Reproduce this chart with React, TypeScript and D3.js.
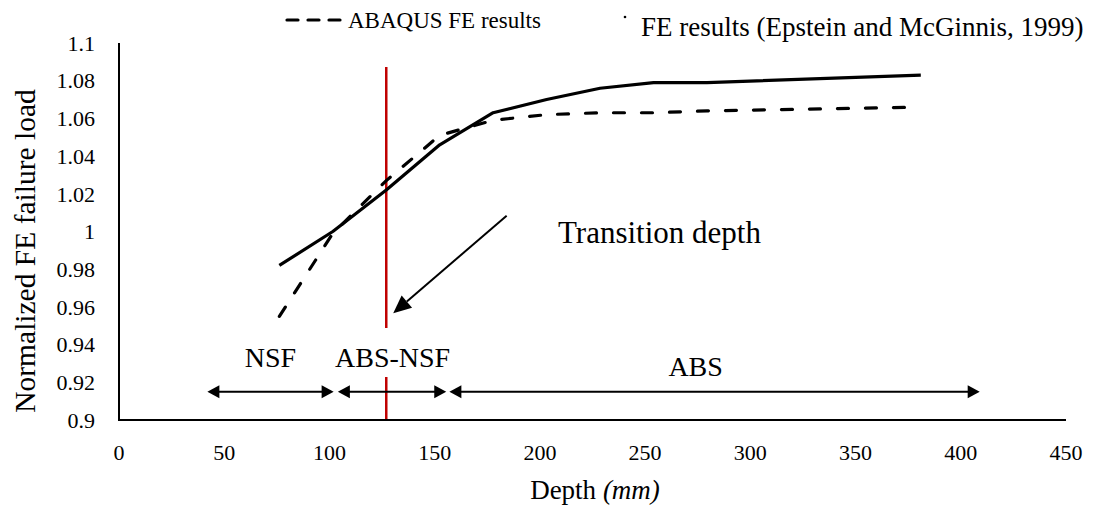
import React from "react";
import * as d3 from "d3";

// Depths in mm (3, 4, 5 ... 11 and 15 inches)
const depths = [76.2, 101.6, 127, 152.4, 177.8, 203.2, 228.6, 254, 279.4, 381];
// FE results (Epstein and McGinnis, 1999) – solid line
const epsteinLoad = [0.982, 1.0, 1.022, 1.046, 1.063, 1.07, 1.076, 1.079, 1.079, 1.083];
// ABAQUS FE results – dashed line
const abaqusLoad = [0.955, 0.999, 1.027, 1.051, 1.059, 1.062, 1.063, 1.063, 1.064, 1.066];

const xTicks = [0, 50, 100, 150, 200, 250, 300, 350, 400, 450];
const yTicks = [0.9, 0.92, 0.94, 0.96, 0.98, 1, 1.02, 1.04, 1.06, 1.08, 1.1];

// Transition depth marker and behaviour zones
const transitionDepth = 127;
const transitionTop = 1.0873;
const zones = [
  { label: "NSF", from: 42, to: 102, at: 72 },
  { label: "ABS-NSF", from: 104, to: 155.5, at: 130 },
  { label: "ABS", from: 157, to: 409, at: 274 },
];
const zoneLevel = 0.915;
const transitionArrow = { x1: 184.2, y1: 1.0084, x2: 130.3, y2: 0.9566 };

const W = 1097;
const H = 513;
const FONT = "Liberation Serif, Times New Roman, Tinos, serif";

export default function App() {
  const x = d3.scaleLinear().domain([0, 450]).range([119, 1066]);
  const y = d3.scaleLinear().domain([0.9, 1.1]).range([420, 43]);

  const pts = (vals: number[]) => depths.map((d, i) => [d, vals[i]] as [number, number]);
  const line = d3
    .line<[number, number]>()
    .x((d) => x(d[0]))
    .y((d) => y(d[1]));

  const head = (tx: number, ty: number, dir: number, len = 12, half = 6.5) =>
    `M${tx},${ty} L${tx - dir * len},${ty - half} L${tx - dir * len},${ty + half} Z`;

  const ay = y(zoneLevel);

  // transition arrow geometry
  const ax1 = x(transitionArrow.x1);
  const ay1 = y(transitionArrow.y1);
  const ax2 = x(transitionArrow.x2);
  const ay2 = y(transitionArrow.y2);
  const ang = Math.atan2(ay2 - ay1, ax2 - ax1);
  const hl = 18;
  const hw = 8;
  const bx = ax2 - hl * Math.cos(ang);
  const by = ay2 - hl * Math.sin(ang);
  const px = -Math.sin(ang);
  const py = Math.cos(ang);

  const txt = { fontFamily: FONT };

  return (
    <div style={{ position: "absolute", left: 0, top: 0 }}>
      <svg width={W} height={H} style={{ display: "block", background: "#fff", fontFamily: FONT }}>
        {/* transition depth line */}
        <line
          x1={x(transitionDepth)}
          x2={x(transitionDepth)}
          y1={y(transitionTop)}
          y2={y(0.9)}
          stroke="#c00000"
          strokeWidth={2.5}
        />

        {/* axes */}
        <line x1={x(0)} x2={x(0)} y1={y(1.1)} y2={y(0.9)} stroke="#000" strokeWidth={2} />
        <line x1={x(0) - 1} x2={x(450)} y1={y(0.9)} y2={y(0.9)} stroke="#000" strokeWidth={2} />

        {yTicks.map((t) => (
          <text key={t} x={95} y={y(t)} dy="0.35em" textAnchor="end" fontSize={22} style={txt}>
            {d3.format("~g")(t)}
          </text>
        ))}
        {xTicks.map((t) => (
          <text key={t} x={x(t)} y={452} dy="0.35em" textAnchor="middle" fontSize={22} style={txt}>
            {t}
          </text>
        ))}

        <text
          transform={`translate(35,251) rotate(-90)`}
          textAnchor="middle"
          fontSize={29.5}
          style={txt}
        >
          Normalized FE failure load
        </text>
        <text x={595} y={499} textAnchor="middle" fontSize={27} style={txt}>
          Depth <tspan fontStyle="italic">(mm)</tspan>
        </text>

        {/* series */}
        <path d={line(pts(epsteinLoad)) ?? ""} fill="none" stroke="#000" strokeWidth={3.2} strokeLinejoin="round" />
        <path
          d={line(pts(abaqusLoad)) ?? ""}
          fill="none"
          stroke="#000"
          strokeWidth={3.2}
          strokeDasharray="11 17"
          strokeLinecap="round"
        />

        {/* zone label box over the marker line */}
        <rect x={x(107)} y={328} width={x(157) - x(107)} height={49} fill="#fff" />

        {/* zone arrows */}
        {zones.map((z) => (
          <g key={z.label}>
            <line x1={x(z.from) + 6} x2={x(z.to) - 6} y1={ay} y2={ay} stroke="#000" strokeWidth={2} />
            <path d={head(x(z.from), ay, -1)} fill="#000" />
            <path d={head(x(z.to), ay, 1)} fill="#000" />
            <text
              x={x(z.at)}
              y={z.label === "ABS" ? 376 : 367}
              textAnchor="middle"
              fontSize={28}
              style={txt}
            >
              {z.label}
            </text>
          </g>
        ))}

        {/* transition annotation */}
        <line x1={ax1} y1={ay1} x2={bx} y2={by} stroke="#000" strokeWidth={2} />
        <path
          d={`M${ax2},${ay2} L${bx + px * hw},${by + py * hw} L${bx - px * hw},${by - py * hw} Z`}
          fill="#000"
        />
        <text x={558} y={243} fontSize={31} style={txt}>Transition depth</text>

        {/* legend */}
        <line x1={287} x2={340} y1={20} y2={20} stroke="#000" strokeWidth={3.2} strokeDasharray="11 10" strokeLinecap="round" />
        <text x={348} y={28} fontSize={23} style={txt}>ABAQUS FE results</text>
        <circle cx={625} cy={17} r={1.3} fill="#000" />
        <text x={641} y={36} fontSize={27} style={txt}>FE results (Epstein and McGinnis, 1999)</text>
      </svg>
    </div>
  );
}
